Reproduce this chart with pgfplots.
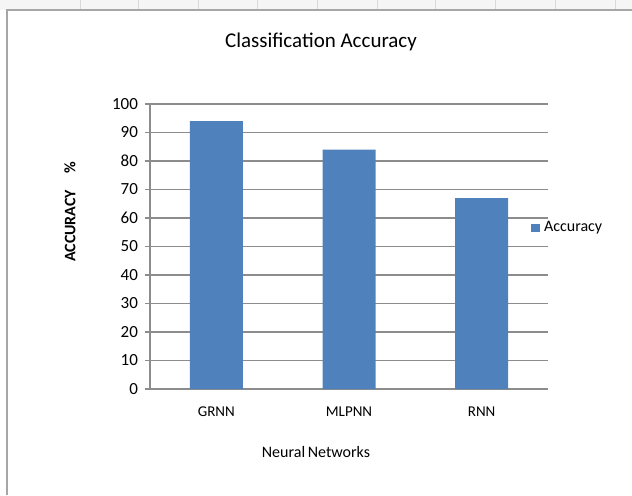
\documentclass[border=0pt]{standalone}
\usepackage{fontspec}
\setmainfont{Carlito}
\usepackage{pgfplots}
\pgfplotsset{compat=1.18}
\definecolor{barblue}{HTML}{4F81BD}
\definecolor{gridgray}{HTML}{8C8C8C}
\begin{document}
\begin{tikzpicture}
\useasboundingbox (-75pt,-53pt) rectangle (241pt,194.5pt);
% sheet frame
\fill[gray!8] (-75pt,189.5pt) rectangle (241pt,194.5pt);
\foreach \x in {80,138,198,257,317,377,435,495,555,615}{
  \draw[gray!30,line width=0.4pt] ({(\x-150)*0.5pt},190pt) -- ({(\x-150)*0.5pt},194.5pt);
}
\draw[gray!70,line width=0.8pt] (-71.5pt,-53pt) -- (-71.5pt,189.5pt) -- (241pt,189.5pt);
\begin{axis}[
  at={(0pt,0pt)}, anchor=south west,
  scale only axis, width=199pt, height=142.5pt,
  xmin=-0.5, xmax=2.5, ymin=0, ymax=100,
  axis lines*=left,
  axis line style={gridgray, line width=0.6pt, -},
  ytick={0,10,...,100},
  ymajorgrids, major grid style={gridgray, line width=0.6pt},
  y tick style={gridgray, line width=0.6pt},
  tick align=outside, major tick length=2.5pt,
  xtick={0,1,2}, xticklabels={GRNN,MLPNN,RNN},
  x tick style={draw=none},
  extra x ticks={-0.5,0.5,1.5,2.5}, extra x tick labels={},
  extra x tick style={grid=none, tick style={gridgray, line width=0.6pt, draw=gridgray}, major tick length=3pt},
  xticklabel style={font=\fontsize{7.5pt}{9pt}\selectfont, yshift=-3pt},
  yticklabel style={font=\fontsize{8.5pt}{10pt}\selectfont},
  /pgf/number format/assume math mode=true,
  legend style={at={(0.957,0.565)}, anchor=west, draw=none, fill=none,
    font=\fontsize{8pt}{9pt}\selectfont, inner sep=0pt,
    /tikz/every even column/.append style={column sep=0pt}},
  legend image code/.code={\fill[barblue] (0pt,-2.2pt) rectangle (4.4pt,2.2pt);},
]
\addplot[ybar, bar width=26.5pt, fill=barblue, draw=none] coordinates {(0,94) (1,84) (2,67)};
\addlegendentry{Accuracy}
\end{axis}
\node at (85.5pt,173.5pt) {\fontsize{10.5pt}{12pt}\selectfont Classification Accuracy};
\node at (83pt,-31.5pt) {\fontsize{8pt}{10pt}\selectfont Neural\,Networks};
\node[rotate=90] at (-40pt,88.5pt) {\fontsize{8pt}{9pt}\selectfont\bfseries ACCURACY\hspace{8pt}\%};
\end{tikzpicture}
\end{document}
